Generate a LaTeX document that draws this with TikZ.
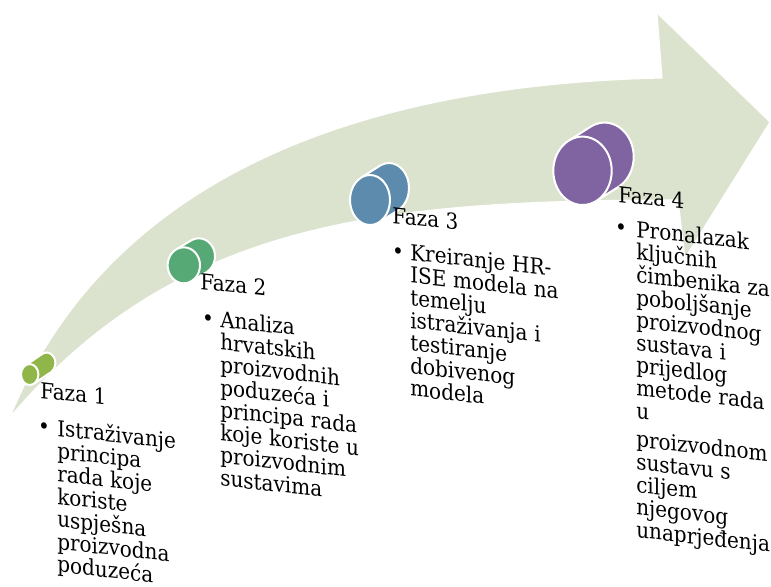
\documentclass[tikz,border=0pt]{standalone}
\usepackage{fontspec}
\setmainfont{DejaVu Serif}
\definecolor{arrowfill}{RGB}{219,227,206}
\definecolor{mone}{RGB}{144,182,74}
\definecolor{mtwo}{RGB}{86,168,117}
\definecolor{mthree}{RGB}{92,139,173}
\definecolor{mfour}{RGB}{128,100,162}
% cylinder marker: color, cx, cy, rx, ry, dx, dy  (pixel coordinates)
\newcommand{\cylmark}[7]{%
  \pgfmathsetmacro{\cmdl}{sqrt((#6)*(#6)+(#7)*(#7))}%
  \pgfmathsetmacro{\cmnx}{-(#7)/\cmdl}%
  \pgfmathsetmacro{\cmny}{(#6)/\cmdl}%
  \pgfmathsetmacro{\cmden}{sqrt((#4)*(#4)*\cmnx*\cmnx+(#5)*(#5)*\cmny*\cmny)}%
  \pgfmathsetmacro{\cmpx}{(#4)*(#4)*\cmnx/\cmden}%
  \pgfmathsetmacro{\cmpy}{(#5)*(#5)*\cmny/\cmden}%
  \fill[#1] ({#2+#6},{#3+#7}) ellipse [x radius=#4, y radius=#5];
  \draw[mkline] ({#2+#6},{#3+#7}) ellipse [x radius=#4, y radius=#5];
  \fill[#1] ({#2+\cmpx},{#3+\cmpy}) -- ({#2+#6+\cmpx},{#3+#7+\cmpy}) -- ({#2+#6-\cmpx},{#3+#7-\cmpy}) -- ({#2-\cmpx},{#3-\cmpy}) -- cycle;
  \draw[mkline] ({#2+\cmpx},{#3+\cmpy}) -- ({#2+#6+\cmpx},{#3+#7+\cmpy});
  \draw[mkline] ({#2-\cmpx},{#3-\cmpy}) -- ({#2+#6-\cmpx},{#3+#7-\cmpy});
  \filldraw[fill=#1, mkline] (#2,#3) ellipse [x radius=#4, y radius=#5];
}
\begin{document}
\begin{tikzpicture}[x=0.75pt, y=-0.75pt,
  mkline/.style={draw=white, line width=1.5pt},
  txt/.style={font={\fontsize{15}{15.45}\selectfont}, inner sep=0pt, yslant=-0.11, yscale=1.1, text=black},
  faza/.style={txt, anchor=base west},
  bul/.style={txt, anchor=base},
  body/.style={txt, anchor=base west, align=left, text width=6cm}]
\fill[white] (0,0) rectangle (771,586);
\useasboundingbox (0,0) rectangle (771,586);
% big curved arrow
\fill[arrowfill, draw=white, line width=0.8pt] (10,417) .. controls (110,176) and (360,85) .. (662,78) -- (657,13) -- (770,122) -- (685,258) -- (678,200) .. controls (378,200) and (176,222) .. (10,417) -- cycle;
% markers
\cylmark{mone}{29.7}{374.5}{8.7}{10.5}{17}{-11.5}
\cylmark{mtwo}{183.8}{265.3}{16.2}{18}{15}{-9}
\cylmark{mthree}{370}{200}{20}{25}{19}{-12}
\cylmark{mfour}{582.5}{170.8}{29.2}{34.2}{22}{-14}
% phase 1
\node[faza] (f1) at (40,398) {Faza 1};
\node[bul] (b1) at (44,434.5) {•};
\node[body] (t1) at (57,436) {Istraživanje\\principa\\rada koje\\koriste\\uspješna\\proizvodna\\poduzeća};
% phase 2
\node[faza] (f2) at (200,289) {Faza 2};
\node[bul] (b2) at (208,325.7) {•};
\node[body] (t2) at (220,327) {Analiza\\hrvatskih\\proizvodnih\\poduzeća i\\principa rada\\koje koriste u\\proizvodnim\\sustavima};
% phase 3
\node[faza] (f3) at (392,223) {Faza 3};
\node[bul] (b3) at (398,258.7) {•};
\node[body] (t3) at (410,260) {Kreiranje HR-\\ISE modela na\\temelju\\istraživanja i\\testiranje\\dobivenog\\modela};
% phase 4
\node[faza] (f4) at (618,202) {Faza 4};
\node[bul] (b4) at (621,235.3) {•};
\node[body] (t4) at (636,237) {Pronalazak\\ključnih\\čimbenika za\\poboljšanje\\proizvodnog\\sustava i\\prijedlog\\metode rada\\u\\[4pt]proizvodnom\\sustavu s\\ciljem\\njegovog\\unaprjeđenja};
\end{tikzpicture}
\end{document}
